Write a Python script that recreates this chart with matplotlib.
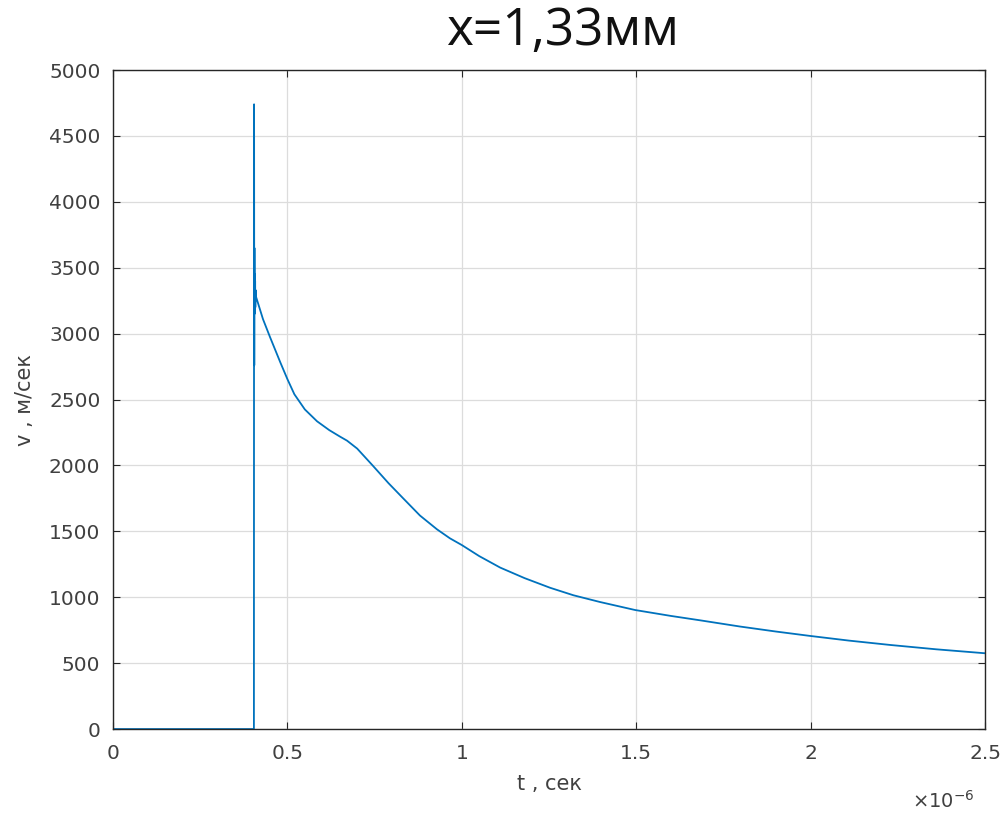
import numpy as np
import matplotlib.pyplot as plt
from matplotlib.ticker import FuncFormatter

# time in microseconds (converted to seconds for plotting), velocity in m/s
t_us = [0.0, 0.404, 0.4045, 0.405, 0.4055, 0.406, 0.4065, 0.407, 0.4075, 0.408,
        0.409, 0.410, 0.413, 0.43, 0.45, 0.48, 0.50, 0.52, 0.55, 0.585,
        0.62, 0.65, 0.671, 0.70, 0.745, 0.79, 0.831, 0.88, 0.929, 0.966,
        1.00, 1.05, 1.11, 1.18, 1.253, 1.32, 1.396, 1.497, 1.60, 1.683,
        1.797, 1.90, 2.00, 2.11, 2.228, 2.36, 2.50]
v = [0, 0, 4740, 2760, 3650, 3150, 3450, 3180, 3400, 3200,
     3330, 3280, 3255, 3110, 2975, 2780, 2655, 2540, 2425, 2335,
     2268, 2220, 2188, 2128, 1998, 1865, 1753, 1620, 1515, 1447,
     1396, 1312, 1225, 1145, 1072, 1015, 964, 903, 858, 825,
     778, 740, 706, 671, 638, 605, 575]

x_ticks = [0, 0.5, 1, 1.5, 2, 2.5]
y_ticks = np.arange(0, 5001, 500)

t = np.array(t_us) * 1e-6

fig = plt.figure(figsize=(10.07, 8.21), dpi=100)
ax = fig.add_axes([0.1122, 0.112, 0.8660, 0.8027])

ax.plot(t, v, color='#0072BD', linewidth=1.3)

ax.set_xlim(0, 2.5e-6)
ax.set_ylim(0, 5000)
ax.set_xticks(np.array(x_ticks) * 1e-6)
ax.xaxis.set_major_formatter(FuncFormatter(lambda x, pos: f'{x * 1e6:g}'))
ax.set_yticks(y_ticks)

ax.grid(True, color='#dcdcdc', linewidth=0.9)
ax.tick_params(direction='in', top=True, right=True, labelsize=14.5,
               labelcolor='#404040', color='#262626', length=5)
ax.tick_params(axis='y', pad=9)
ax.tick_params(axis='x', pad=11)
for s in ax.spines.values():
    s.set_color('#262626')
    s.set_linewidth(1.0)

ax.set_xlabel('t , сек', fontsize=15, color='#404040', labelpad=8)
ax.set_ylabel('v , м/сек', fontsize=15, color='#404040', labelpad=10)
fig.text(0.968, 0.016, r'$\times10^{-6}$', fontsize=14, color='#404040',
         ha='right', va='baseline')

fig.text(0.559, 0.945, 'x=1,33мм', fontsize=37, family='Open Sans',
         ha='center', va='baseline', color='#111111')

fig.savefig('out.png', dpi=100)
